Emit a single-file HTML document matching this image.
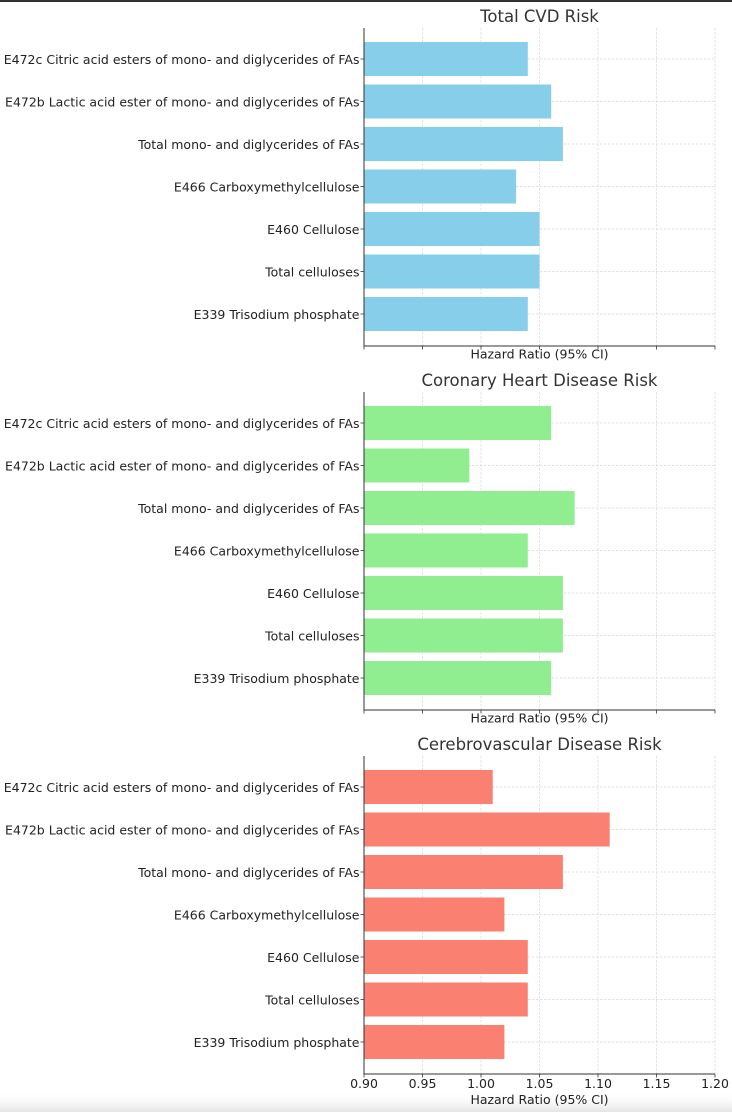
<!DOCTYPE html>
<html><head><meta charset="utf-8"><style>
html,body{margin:0;padding:0;background:#fff;}
svg{display:block;font-family:"DejaVu Sans","Liberation Sans",sans-serif;}
</style></head><body>
<svg id="chart" width="732" height="1112" viewBox="0 0 732 1112" xmlns="http://www.w3.org/2000/svg">
<defs><linearGradient id="fade" x1="0" y1="0" x2="0" y2="1"><stop offset="0" stop-color="#fff" stop-opacity="0"/><stop offset="1" stop-color="#e4e4e4"/></linearGradient></defs>
<rect x="0" y="0" width="732" height="2" fill="#333"/>
<rect x="0" y="1092" width="732" height="20" fill="url(#fade)"/>
</svg>
<script>
const categories=["E472c Citric acid esters of mono- and diglycerides of FAs","E472b Lactic acid ester of mono- and diglycerides of FAs","Total mono- and diglycerides of FAs","E466 Carboxymethylcellulose","E460 Cellulose","Total celluloses","E339 Trisodium phosphate"];
const titles=["Total CVD Risk","Coronary Heart Disease Risk","Cerebrovascular Disease Risk"];
const cvdValues=[1.04,1.06,1.07,1.03,1.05,1.05,1.04];
const chdValues=[1.06,0.99,1.08,1.04,1.07,1.07,1.06];
const cbvValues=[1.01,1.11,1.07,1.02,1.04,1.04,1.02];
const tickValues=[0.90,0.95,1.00,1.05,1.10,1.15,1.20];
const tickLabels=["0.90","0.95","1.00","1.05","1.10","1.15","1.20"];
const colors=["#87ceeb","#90ee90","#fa8072"];
const series=[cvdValues,chdValues,cbvValues];
const NS="http://www.w3.org/2000/svg";
const svg=document.getElementById('chart');
const X0=364,X1=715,xmin=0.9,xmax=1.2;
function xs(v){return X0+(v-xmin)/(xmax-xmin)*(X1-X0);}
function mk(t,a,p){const e=document.createElementNS(NS,t);for(const k in a)e.setAttribute(k,a[k]);(p||svg).appendChild(e);return e;}
for(let p=0;p<3;p++){
  const top=28+364*p,bot=346+364*p;
  const g=mk('g',{});
  
  
  const yc=k=>top+31+42.5*k;
  tickValues.forEach((v,i)=>{if(i>0){const l=mk('line',{x1:xs(v),x2:xs(v),y1:top,y2:bot,stroke:'#d8d8d8','stroke-width':0.7,'stroke-dasharray':'2.5,1.5'},g);}});
  categories.forEach((c,k)=>{const l=mk('line',{x1:X0,x2:X1,y1:yc(k),y2:yc(k),stroke:'#d8d8d8','stroke-width':0.7,'stroke-dasharray':'2.5,1.5'},g);});
  series[p].forEach((v,k)=>{
    const r=mk('rect',{x:X0,y:yc(k)-17,width:xs(v)-X0,height:34,fill:colors[p]},g);
    
    
    const t=mk('text',{x:X0-4.5,y:yc(k)+5,'text-anchor':'end','font-size':12.5,fill:'#222'},g);
    t.textContent=categories[k];
    
    
    mk('line',{x1:X0-3.5,x2:X0,y1:yc(k),y2:yc(k),stroke:'#333','stroke-width':0.8},g);
  });
  const sp=mk('path',{d:`M${X0},${top} V${bot} H${X1}`,fill:'none',stroke:'#333','stroke-width':1},g);
  
  
  tickValues.forEach((v,i)=>{
    mk('line',{x1:xs(v),x2:xs(v),y1:bot,y2:bot+3.5,stroke:'#333','stroke-width':0.8},g);
    if(p===2){const t=mk('text',{x:xs(v),y:bot+14,'text-anchor':'middle','font-size':12.5,fill:'#222'},g);t.textContent=tickLabels[i];
      
      }
  });
  const xl=mk('text',{x:(X0+X1)/2,y:p===2?bot+30:bot+12.5,'text-anchor':'middle','font-size':12.5,fill:'#222'},g);
  xl.textContent='Hazard Ratio (95% CI)';
  
  
  const tt=mk('text',{x:(X0+X1)/2,y:top-6,'text-anchor':'middle','font-size':16.5,fill:'#333'},g);
  tt.textContent=titles[p];
  
  
}
</script>
</body></html>
